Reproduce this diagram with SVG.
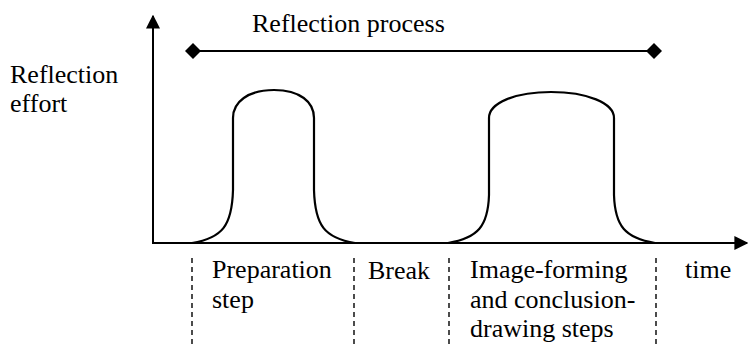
<svg xmlns="http://www.w3.org/2000/svg" width="748" height="345" viewBox="0 0 748 345">
  <style>
    text { font-family: "Liberation Serif", "Times New Roman", serif; font-size: 26px; fill: #000; }
    .axis { stroke: #000; stroke-width: 2; fill: none; }
    .curve { stroke: #000; stroke-width: 2.2; fill: none; }
    .div { stroke: #000; stroke-width: 1.4; stroke-dasharray: 5 4; fill: none; }
    .span { stroke: #000; stroke-width: 2; fill: none; }
  </style>
  <defs>
    <marker id="arrow" viewBox="0 0 10 10" refX="9" refY="5" markerWidth="7" markerHeight="8" markerUnits="strokeWidth" orient="auto">
      <path d="M0,0 L10,5 L0,10 z" fill="#000"/>
    </marker>
    <marker id="diamond" viewBox="0 0 10 10" refX="5" refY="5" markerWidth="8" markerHeight="8" markerUnits="strokeWidth" orient="auto">
      <path d="M0,5 L5,0 L10,5 L5,10 z" fill="#000"/>
    </marker>
  </defs>

  <!-- effort / time axes -->
  <g id="axes">
    <line class="axis" x1="153" y1="244" x2="153" y2="16" marker-end="url(#arrow)"/>
    <line class="axis" x1="152" y1="243" x2="747" y2="243" marker-end="url(#arrow)"/>
  </g>

  <!-- process span and phase dividers -->
  <g id="connectors">
    <line class="span" x1="193" y1="51" x2="654" y2="51" marker-start="url(#diamond)" marker-end="url(#diamond)"/>
    <line class="div" x1="192" y1="258" x2="192" y2="345"/>
    <line class="div" x1="354" y1="258" x2="354" y2="345"/>
    <line class="div" x1="449" y1="258" x2="449" y2="345"/>
    <line class="div" x1="656" y1="258" x2="656" y2="345"/>
  </g>

  <g id="effort-preparation">
    <path class="curve" d="M192,243 C222,238 232,226 233,190 L233,118 C233,102 248,90 274,90 C300,90 314,102 314,118 L314,190 C315,226 325,238 355,243"/>
  </g>

  <g id="effort-image-forming">
    <path class="curve" d="M448,243 C478,238 488,226 489,195 L489,118 C489,103 515,92 551,92 C587,92 614,103 614,118 L614,195 C615,226 625,238 655,243"/>
  </g>

  <g id="label-process">
    <text x="252" y="32">Reflection process</text>
  </g>
  <g id="label-effort">
    <text x="10" y="83">Reflection</text>
    <text x="10" y="112">effort</text>
  </g>
  <g id="label-preparation">
    <text x="212" y="278">Preparation</text>
    <text x="212" y="308">step</text>
  </g>
  <g id="label-break">
    <text x="368" y="279">Break</text>
  </g>
  <g id="label-image-forming">
    <text x="470" y="278">Image-forming</text>
    <text x="470" y="308">and conclusion-</text>
    <text x="470" y="337">drawing steps</text>
  </g>
  <g id="label-time">
    <text x="685" y="278">time</text>
  </g>
</svg>
